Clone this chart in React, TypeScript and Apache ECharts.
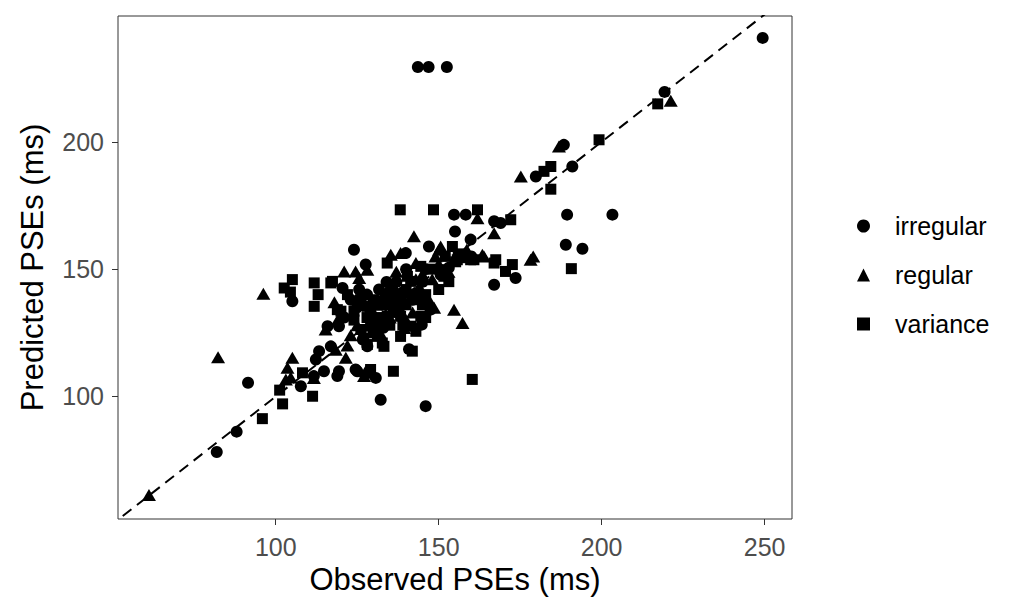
import React, { useEffect, useRef } from "react";
import * as echarts from "echarts";

const xTicks = [100, 150, 200, 250];
const yTicks = [100, 150, 200];

const irregular: number[][] = [
  [143.6, 229.4], [146.9, 229.4], [152.5, 229.4],
  [249.4, 240.8], [219.3, 219.6],
  [188.4, 198.8], [191, 190.3], [179.8, 186.4],
  [189.4, 171.4], [203.3, 171.4], [189, 159.6], [194.1, 158],
  [167, 168.8], [169, 168.1], [159.8, 161.6], [155, 164.8], [154.7, 171.4], [158.3, 171.4],
  [173.6, 146.5], [167, 143.9],
  [147, 158.9], [139.9, 156.3], [124, 157.6], [127.6, 151.8], [120.5, 142.6], [125.6, 142], [131.7, 142],
  [153.1, 150.6], [150.6, 147.8],
  [105.1, 137.4], [115.9, 127.6], [119.4, 127.6], [116.9, 119.7], [113.3, 117.8], [112.3, 114.5],
  [114.8, 109.9], [118.9, 108], [124.5, 110.6], [107.7, 104],
  [91.5, 105.4], [88, 86.2], [81.9, 78.2],
  [132.2, 98.7], [146, 96.2],
  [128.1, 119.7], [140.9, 118.6], [130.7, 107.3],
  [126.7, 122.4], [144.8, 128.2], [147.5, 134.1], [119.4, 109.9], [125, 109.9], [111.7, 108],
  [135, 140], [138, 135], [130, 130], [142, 138], [125, 135], [133, 127], [137, 145],
  [128, 140], [121, 131], [145, 145], [160, 155],
  [129, 134], [134, 145], [140, 150], [144, 140], [123, 138], [131, 128], [139, 141], [146, 150]
];

const regular: number[][] = [
  [221.2, 216.1], [186.9, 198.2], [175.2, 186.4], [178.2, 153.7], [179, 155],
  [161.9, 170], [167, 164.1], [163.4, 155.7], [163.9, 155],
  [142.4, 162.9], [150.6, 158.9], [150.1, 157.6], [138.3, 156.3], [135.3, 155.7], [143, 152.4],
  [121, 149.1], [124.5, 149.1], [125.6, 146.5], [128.1, 149.8],
  [96.2, 140.3],
  [136.3, 143.2], [134.8, 143.2], [144, 143.2], [147, 138], [148.6, 134.8], [154.7, 134.1], [157.3, 128.9],
  [139.4, 126.9],
  [115.3, 126.3], [118.4, 118.4], [121.5, 115.2],
  [105.1, 115.2], [103.6, 111.3], [104.6, 107.5], [103.1, 106.7],
  [111.7, 107.3], [127.6, 109.9], [128.1, 109.3], [127.1, 108],
  [82.3, 115.4], [61.1, 61.3], [158.6, 157.6],
  [130, 133], [140, 130], [137, 137], [145, 148], [132, 125], [125, 128], [142, 133],
  [150, 152], [155, 154], [118, 137], [122, 120], [148, 146],
  [126, 140], [133, 140], [139, 139], [143, 146], [131, 136], [135, 131], [141, 141],
  [149, 155], [153, 149], [119, 130], [123, 124], [137, 149]
];

const variance: number[][] = [
  [199.2, 200.8], [217.2, 214.9], [182.3, 188.4], [184.4, 190.3], [184.4, 181.4],
  [190.7, 150.2],
  [138.2, 173.3], [148.4, 173.3], [161.9, 173.3], [172.1, 169.4],
  [167.5, 153.7], [172.6, 151.8], [170.5, 149.1], [160.8, 153.7], [167, 152.4],
  [155.7, 153.7], [159.8, 153.7], [154.2, 158.9], [151.6, 147.2], [152.1, 149.8], [155.2, 152.9], [157.7, 154.5], [153.1, 145.1],
  [134.2, 152.4], [144.5, 151.1], [140.4, 147.2], [141.4, 145.2],
  [102.6, 142.6], [105.1, 145.9], [104.5, 141],
  [111.8, 144.6], [116.9, 144.6], [111.8, 135.4], [117.4, 145.2], [113, 140],
  [118.9, 134.1], [120, 133.5], [124, 133.5],
  [128.1, 135.4], [132.2, 136.7], [136.3, 138], [134.2, 131.5], [138.3, 131.5], [141.4, 127.6], [144.5, 131.5], [143.5, 138],
  [129.1, 127.6], [126.1, 126.3], [131.2, 123.6], [138.3, 123.6], [128.1, 120.4], [133.2, 119.7],
  [143, 125.6], [132.7, 121], [141.9, 117.8], [146, 131],
  [136.1, 109.9], [129.1, 110.6], [160.3, 106.7],
  [108.2, 109.3], [101.2, 102.5], [102.1, 97.1], [95.9, 91.3], [111.3, 100.1],
  [122, 140], [126, 138], [130, 138], [134, 136], [138, 140], [140, 136], [136, 133], [132, 131],
  [128, 131], [124, 130], [140, 142], [142, 140], [146, 140], [145, 136], [150, 142], [148, 150],
  [152, 155], [156, 156], [135, 128], [139, 128], [130, 125], [127, 123]
];

const refLine: number[][] = [[40, 40], [270, 270]];

const FONT = "'Liberation Sans', Arial, Helvetica, sans-serif";

export default function App() {
  const ref = useRef<HTMLDivElement>(null);
  useEffect(() => {
    document.body.style.margin = "0";
    const chart = echarts.init(ref.current!, null, { renderer: "svg" });
    const marker = { color: "#000000", opacity: 1 };
    chart.setOption({
      animation: false,
      backgroundColor: "#ffffff",
      textStyle: { fontFamily: FONT },
      grid: {
        left: 118, top: 16, width: 674, height: 503,
        show: true, borderColor: "#333333", borderWidth: 1, backgroundColor: "transparent"
      },
      legend: {
        orient: "vertical",
        left: 852,
        top: 208,
        itemWidth: 13,
        itemHeight: 13,
        itemGap: 23,
        data: ["irregular", "regular", "variance"],
        itemStyle: { opacity: 1 },
        textStyle: { fontFamily: FONT, fontSize: 25, color: "#000000", lineHeight: 26, padding: [0, 0, 0, 20] }
      },
      xAxis: {
        type: "value",
        min: 51.6,
        max: 258.4,
        name: "Observed PSEs (ms)",
        nameLocation: "middle",
        nameGap: 44,
        nameTextStyle: { fontFamily: FONT, fontSize: 31, color: "#000000" },
        axisLine: { show: false },
        splitLine: { show: false },
        axisTick: { show: true, length: 6, lineStyle: { color: "#333333", width: 1 }, customValues: xTicks },
        axisLabel: { fontFamily: FONT, fontSize: 25, color: "#4D4D4D", margin: 15, customValues: xTicks }
      },
      yAxis: {
        type: "value",
        min: 51.9,
        max: 249.4,
        name: "Predicted PSEs (ms)",
        nameLocation: "middle",
        nameGap: 70,
        nameTextStyle: { fontFamily: FONT, fontSize: 31, color: "#000000" },
        axisLine: { show: false },
        splitLine: { show: false },
        axisTick: { show: true, length: 6, lineStyle: { color: "#333333", width: 1 }, customValues: yTicks },
        axisLabel: { fontFamily: FONT, fontSize: 25, color: "#4D4D4D", margin: 14, customValues: yTicks }
      },
      series: [
        { name: "irregular", type: "scatter", symbol: "circle", symbolSize: 12, itemStyle: marker, data: irregular, z: 2 },
        { name: "regular", type: "scatter", symbol: "triangle", symbolSize: [14, 12], itemStyle: marker, data: regular, z: 2 },
        { name: "variance", type: "scatter", symbol: "rect", symbolSize: 11, itemStyle: marker, data: variance, z: 2 },
        {
          type: "line",
          data: refLine,
          symbol: "none",
          silent: true,
          clip: true,
          z: 5,
          lineStyle: { color: "#000000", width: 2, type: [11, 7] }
        }
      ]
    });
    return () => chart.dispose();
  }, []);
  return <div ref={ref} style={{ width: 1024, height: 614 }} />;
}
